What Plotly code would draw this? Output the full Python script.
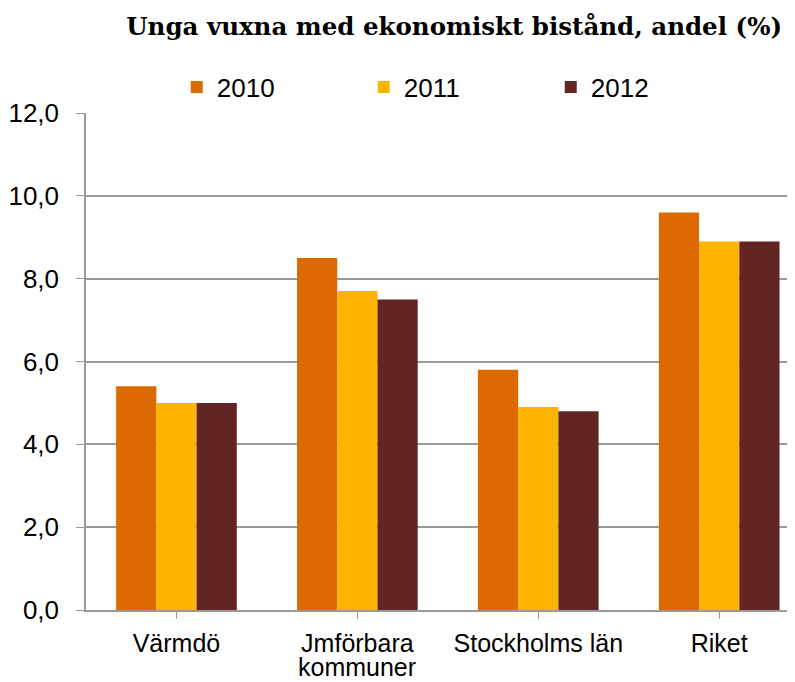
import plotly.graph_objects as go

categories = ["Värmdö", "Jmförbara", "Stockholms län", "Riket"]
category_second_line = ["", "kommuner", "", ""]
years = ["2010", "2011", "2012"]
values_2010 = [5.4, 8.5, 5.8, 9.6]
values_2011 = [5.0, 7.7, 4.9, 8.9]
values_2012 = [5.0, 7.5, 4.8, 8.9]
colors = ["#DD6A00", "#FDB400", "#632523"]
y_ticks = [0, 2, 4, 6, 8, 10, 12]

fig = go.Figure()
for name, vals, col in zip(years, [values_2010, values_2011, values_2012], colors):
    fig.add_trace(go.Bar(name=name, x=list(range(len(categories))), y=vals,
                         marker=dict(color=col, line=dict(width=0))))

for i, txt in enumerate(category_second_line):
    if txt:
        fig.add_annotation(x=i, xref="x", y=-0.1147, yref="paper", text=txt,
                           showarrow=False, yanchor="middle", xanchor="center",
                           borderpad=0,
                           font=dict(size=25, family="Liberation Sans, Arial, sans-serif",
                                     color="black"))

fig.update_layout(
    width=787, height=674,
    margin=dict(l=78, r=0, t=105, b=72),
    paper_bgcolor="white", plot_bgcolor="white",
    barmode="group", bargap=0.333, bargroupgap=0,
    separators=", ",
    font=dict(family="Liberation Sans, Arial, sans-serif", size=26, color="black"),
    title=dict(text="<b>Unga vuxna med ekonomiskt bistånd, andel (%)</b>",
               font=dict(family="DejaVu Serif, Georgia, serif", size=24.5, color="black"),
               x=0.9835, xanchor="right", xref="container", y=0.972, yanchor="middle",
               yref="container"),
    legend=dict(orientation="h", x=0.128, xanchor="left", y=1.052, yanchor="middle",
                entrywidth=142, entrywidthmode="pixels", font=dict(size=26),
                itemwidth=30, tracegroupgap=0),
    xaxis=dict(range=[-0.5, 3.419], tickmode="array", tickvals=list(range(len(categories))),
               ticktext=categories, showgrid=False, showline=True, linecolor="#9a9a9a",
               linewidth=1.5, ticks="outside", tickson="boundaries", ticklen=7,
               tickcolor="#9a9a9a", tickfont=dict(size=25), fixedrange=True,
               automargin=False, ticklabelstandoff=3),
    yaxis=dict(range=[0, 12], tickvals=y_ticks, tickformat=".1f", showgrid=True,
               gridcolor="#9a9a9a", gridwidth=1.5, showline=True, linecolor="#9a9a9a",
               linewidth=1.5, ticks="outside", ticklen=8, tickcolor="#9a9a9a",
               tickfont=dict(size=26), zeroline=False, automargin=False,
               ticklabelstandoff=12),
)

fig.write_html("out.html")
